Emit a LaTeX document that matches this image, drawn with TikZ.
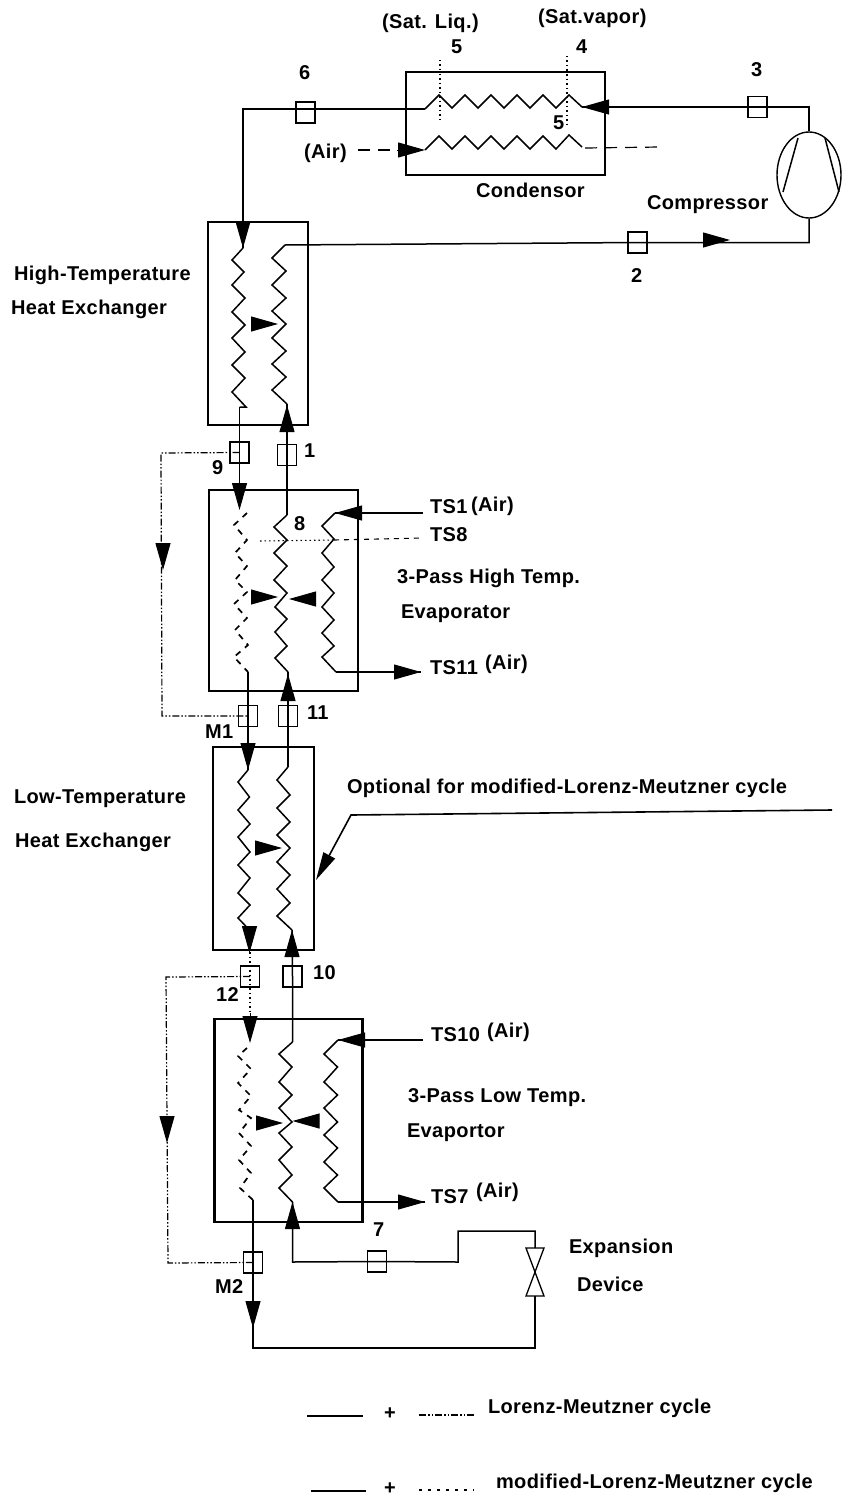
\documentclass[tikz,border=0pt]{standalone}
\usepackage{fontspec}
\usetikzlibrary{arrows.meta,shapes.geometric}
\newfontfamily\lblfont[LetterSpace=2]{Liberation Sans}
\tikzset{
  x=1pt,y=-1pt,
  pipe/.style={line width=1.5pt,line join=miter},
  shell/.style={draw,line width=2.3pt,inner sep=0pt,outer sep=0pt},
  sensor/.style={draw,line width=1.2pt,inner sep=0pt,outer sep=0pt,minimum width=19pt,minimum height=21pt},
  lab/.style={anchor=base west,inner sep=0pt,outer sep=0pt,font=\lblfont\bfseries\fontsize{20}{22}\selectfont},
  head/.style={line width=1pt,-{Triangle[length=#1,width=15pt]}},
  head/.default=27pt,
  dashdd/.style={line width=1.2pt,dash pattern=on 7pt off 2pt on 1.5pt off 2pt on 1.5pt off 2pt},
  dashcoil/.style={line width=1.7pt,dash pattern=on 6pt off 6pt},
  dots/.style={line width=1.1pt,dash pattern=on 1.5pt off 3pt},
  dashair/.style={line width=1.2pt,dash pattern=on 12pt off 8pt},
}
\newcommand{\hd}[4][27pt]{% arrow head: #2 base, #3 tip, #4 id
  \coordinate (#4b) at (#2);\coordinate (#4t) at (#3);
  \draw[head=#1] (#4b) -- (#4t);}
\begin{document}
\begin{tikzpicture}
\useasboundingbox[fill=white] (0,0) rectangle (841,1496);

% shells
\node[shell,minimum width=199pt,minimum height=103pt] (cond) at (505.5,123.5) {};
\node[shell,minimum width=100pt,minimum height=203pt] (hx1) at (258,323.5) {};
\node[shell,minimum width=149pt,minimum height=201pt] (ev1) at (283.5,590.5) {};
\node[shell,minimum width=101pt,minimum height=203pt] (hx2) at (263.5,848.5) {};
\node[shell,minimum width=148pt,minimum height=203pt] (ev2) at (288.5,1120.5) {};

% sensors
\node[sensor] (s6) at (305.5,112.5) {};
\node[sensor] (s3) at (757.5,107) {};
\node[sensor] (s2) at (637.5,242.5) {};
\node[sensor] (s9) at (239.5,452.5) {};
\node[sensor] (s1) at (287,455) {};
\node[sensor] (sM1) at (248,716) {};
\node[sensor] (s11) at (288,716) {};
\node[sensor] (s12) at (250,976.5) {};
\node[sensor] (s10) at (292.5,976.5) {};
\node[sensor] (sM2) at (253,1262.5) {};
\node[sensor] (s7) at (377,1261.5) {};

% compressor
\node[draw,ellipse,line width=1.4pt,inner sep=0pt,minimum width=64pt,minimum height=86pt] (comp) at (809,175) {};
\coordinate (ca) at (798,138);\coordinate (cb) at (783,192);
\coordinate (cc) at (825,138);\coordinate (cd) at (839,192);
\draw[pipe] (ca) -- (cb);
\draw[pipe] (cc) -- (cd);

% expansion valve
\coordinate (vtl) at (526,1248);\coordinate (vtr) at (544,1248);
\coordinate (vm) at (535,1272);
\coordinate (vbl) at (526,1296);\coordinate (vbr) at (544,1296);
\coordinate (vt) at (535,1248);\coordinate (vb) at (535,1296);
\draw[line width=1.3pt] (vtl) -- (vtr) -- (vm) -- cycle;
\draw[line width=1.3pt] (vbl) -- (vbr) -- (vm) -- cycle;

% condenser coils
\coordinate (c1L) at (425,109);\coordinate (c1R) at (582,107);
\draw[pipe] (c1L) -- (439,95) -- (452,108) -- (465,95) -- (478,108) -- (491,95) -- (504,108) -- (517,95) -- (530,108) -- (543,95) -- (556,108) -- (569,95) -- (c1R);
\coordinate (c2L) at (425,150);\coordinate (c2R) at (582,147);
\draw[pipe] (c2L) -- (439,136) -- (452,149) -- (465,136) -- (478,149) -- (491,136) -- (504,149) -- (517,136) -- (530,149) -- (543,136) -- (556,149) -- (569,135) -- (c2R);

% main loop top
\draw[pipe] (comp.north) |- (s3.center) -- (c1R);
\coordinate (x1) at (243,109);
\coordinate (hx1Lt) at (243,248);
\draw[pipe] (c1L) -- (x1) -- (hx1Lt);
\coordinate (hx1Rt) at (285,245);
\draw[pipe] (comp.south) |- (s2.center) -- (hx1Rt);

% HX1 coils
\coordinate (hx1Re) at (287,404);
\draw[pipe] (hx1Rt) -- (272,258) -- (286,271) -- (272,285) -- (286,298) -- (272,311) -- (286,324) -- (272,338) -- (286,351) -- (272,364) -- (286,377) -- (272,390) -- (hx1Re);
\coordinate (hx1Le) at (239.5,407);
\draw[pipe] (hx1Lt) -- (232,260) -- (244,272) -- (232,285) -- (245,298) -- (232,312) -- (245,325) -- (232,338) -- (245,352) -- (232,365) -- (245,378) -- (232,392) -- (246,407) -- (hx1Le);

% HX1 to Ev1
\coordinate (ev1Lt) at (239.5,508);
\draw[pipe] (hx1Le) -- (s9.center) -- (ev1Lt);
\coordinate (ev1Ct) at (287,515);
\draw[pipe] (hx1Re) -- (s1.center) -- (ev1Ct);

% Ev1 coils
\coordinate (ev1Ce) at (288,672);
\draw[pipe] (ev1Ct) -- (274,527) -- (287,540) -- (274,553) -- (287,566) -- (274,580) -- (287,593) -- (275,607) -- (287,619) -- (275,632) -- (287,646) -- (275,658) -- (ev1Ce);
\coordinate (ev1Rt) at (335,513);\coordinate (ev1Re) at (336,672);
\draw[pipe] (ev1Rt) -- (322,526) -- (334,539) -- (322,553) -- (334,567) -- (322,580) -- (334,593) -- (322,607) -- (334,620) -- (322,633) -- (334,646) -- (322,657) -- (ev1Re);
\coordinate (ev1Ld) at (248,672);
\draw[dashcoil] (247,513) -- (234,525) -- (247,540) -- (235,553) -- (247,566) -- (235,580) -- (247,592) -- (234,604) -- (247,618) -- (235,630) -- (248,645) -- (234,657) -- (ev1Ld);
\coordinate (ts1) at (423,513);\coordinate (ts11) at (421,672);
\draw[pipe] (ts1) -- (ev1Rt);
\draw[pipe] (ev1Re) -- (ts11);
\coordinate (ts8a) at (260,541);\coordinate (ts8b) at (334,540);\coordinate (ts8c) at (423,538);
\draw[dots] (ts8a) -- (ts8b);
\draw[line width=1.1pt,dash pattern=on 5pt off 5pt] (ts8b) -- (ts8c);

% Ev1 to HX2
\coordinate (hx2Lt) at (248,770);\coordinate (hx2Rt) at (288,767);
\draw[pipe] (ev1Ld) -- (sM1.center) -- (hx2Lt);
\draw[pipe] (ev1Ce) -- (s11.center) -- (hx2Rt);

% HX2 coils
\coordinate (hx2Le) at (249.5,930);\coordinate (hx2Re) at (292,930);
\draw[pipe] (hx2Lt) -- (238,782) -- (249.5,797) -- (238,810) -- (250,824) -- (238,837) -- (250,852) -- (238,865) -- (250,878) -- (238,893) -- (250,905) -- (238,918) -- (hx2Le);
\draw[pipe] (hx2Rt) -- (277,780) -- (290,795) -- (277,808) -- (290,822) -- (277,835) -- (290,848) -- (277,862) -- (290,875) -- (277,889) -- (290,903) -- (277,916) -- (hx2Re);

% HX2 to Ev2
\coordinate (ev2Lt) at (250,1043);\coordinate (ev2Ct) at (292.5,1042);
\coordinate (dotA) at (250,952);\coordinate (dotB) at (250,1015);
\draw[dots] (dotA) -- (s12.center) -- (dotB);
\draw[pipe] (hx2Re) -- (s10.center) -- (ev2Ct);

% Ev2 coils
\coordinate (ev2Ce) at (292.5,1202);
\draw[pipe] (ev2Ct) -- (279,1054) -- (292,1067) -- (279,1082) -- (292,1095) -- (279,1108) -- (292,1122) -- (279,1133) -- (292,1147) -- (279,1160) -- (292,1175) -- (279,1188) -- (ev2Ce);
\coordinate (ev2Rt) at (338,1040);\coordinate (ev2Re) at (338,1202);
\draw[pipe] (ev2Rt) -- (324,1054) -- (337.5,1067) -- (324,1082) -- (337.5,1095) -- (324,1108) -- (337.5,1122) -- (324,1135) -- (337.5,1148) -- (324,1162) -- (337.5,1175) -- (324,1188) -- (ev2Re);
\coordinate (ev2Ld) at (253,1200);
\draw[dashcoil] (247,1048) -- (238,1056) -- (251,1069) -- (238,1083) -- (251,1096) -- (239,1110) -- (251,1118) -- (239,1133) -- (251,1146) -- (239,1160) -- (251,1173) -- (240,1188) -- (ev2Ld);
\coordinate (ts10) at (423,1040);\coordinate (ts7) at (425,1202);
\draw[pipe] (ts10) -- (ev2Rt);
\draw[pipe] (ev2Re) -- (ts7);

% bottom loop
\coordinate (bl) at (253,1348);
\draw[pipe] (ev2Ld) -- (sM2.center) -- (bl) -| (vb);
\coordinate (p1) at (535,1231);\coordinate (p2) at (458,1231);\coordinate (p3) at (458,1262);\coordinate (p4) at (292.5,1262);
\draw[pipe] (vt) -- (p1) -- (p2) -- (p3) -- (s7.center) -- (p4) -- (ev2Ce);

% bypass lines
\coordinate (d1) at (161,453);\coordinate (d2) at (162,716);
\draw[dashdd] (s9.center) -- (d1) -- (d2) -- (sM1.center);
\coordinate (d3) at (166,977);\coordinate (d4) at (168,1263);
\draw[dashdd] (s12.center) -- (d3) -- (d4) -- (sM2.center);

% condenser air and dotted state lines
\coordinate (airin) at (358,150);\coordinate (airout) at (660,147);\coordinate (airmid) at (585,148);
\draw[dashair] (airin) -- (400,150);
\draw[dashair] (airmid) -- (airout);
\coordinate (d5a) at (440,60);\coordinate (d5b) at (440,123);
\coordinate (d4a) at (567,56);\coordinate (d4b) at (567,125);
\draw[dots] (d5a) -- (d5b);
\draw[dots] (d4a) -- (d4b);

% optional leader
\coordinate (l1) at (832,810);\coordinate (l2) at (351,815);\coordinate (l3) at (316,880);
\draw[line width=1.6pt,-{Triangle[length=28pt,width=13pt]}] (l1) -- (l2) -- (l3);

% arrow heads
\hd{609,107}{582,107}{a01}
\hd{397,150}{425,150}{a02}
\hd{703,240}{730,240}{a03}
\hd{243,219}{243,248}{a04}
\hd{287,434}{287,405}{a05}
\hd{252,324}{278,324}{a06}
\hd{239.5,482}{239.5,510}{a07}
\hd{362,513}{335,513}{a08}
\hd{395,672}{421,672}{a09}
\hd{253,597}{278,597}{a10}
\hd{315,599}{289,599}{a11}
\hd{288,699}{288,674}{a12}
\hd{163,544}{163,570}{a13}
\hd{248,741}{248,770}{a14}
\hd{255,848}{282,848}{a15}
\hd{249.5,930}{249.5,953}{a16}
\hd{292,957}{292,930}{a17}
\hd{250,1013}{250,1043}{a18}
\hd{362,1040}{338,1040}{a19}
\hd{398,1202}{425,1202}{a20}
\hd{257,1123}{283,1123}{a21}
\hd{318,1121}{292.5,1121}{a22}
\hd{292.5,1231}{292.5,1202}{a23}
\hd{167,1117}{167,1143}{a24}
\hd{253,1300}{253,1328}{a25}

% labels
\node[lab] (t01) at (382,29) {(Sat. Liq.)};
\node[lab] (t02) at (538,24) {(Sat.vapor)};
\node[lab] (t03) at (451,54) {5};
\node[lab] (t04) at (576,53) {4};
\node[lab] (t05) at (299,79) {6};
\node[lab] (t06) at (751,77) {3};
\node[lab] (t07) at (553,129) {5};
\node[lab] (t08) at (304,158) {(Air)};
\node[lab] (t09) at (476,197) {Condensor};
\node[lab] (t10) at (647,209) {Compressor};
\node[lab] (t11) at (631,282) {2};
\node[lab] (t12) at (14,280) {High-Temperature};
\node[lab] (t13) at (11,314) {Heat Exchanger};
\node[lab] (t14) at (304,457) {1};
\node[lab] (t15) at (212,474) {9};
\node[lab] (t16) at (294,530) {8};
\node[lab] (t17) at (430,513) {TS1};
\node[lab] (t18) at (471,511) {(Air)};
\node[lab] (t19) at (430,541) {TS8};
\node[lab] (t20) at (397,583) {3-Pass High Temp.};
\node[lab] (t21) at (401,618) {Evaporator};
\node[lab] (t22) at (430,674) {TS11};
\node[lab] (t23) at (485,669) {(Air)};
\node[lab] (t24) at (307,719) {11};
\node[lab] (t25) at (205,738) {M1};
\node[lab] (t26) at (347,793) {Optional for modified-Lorenz-Meutzner cycle};
\node[lab] (t27) at (14,803) {Low-Temperature};
\node[lab] (t28) at (15,847) {Heat Exchanger};
\node[lab] (t29) at (313,979) {10};
\node[lab] (t30) at (216,1001) {12};
\node[lab] (t31) at (431,1041) {TS10};
\node[lab] (t32) at (487,1037) {(Air)};
\node[lab] (t33) at (408,1102) {3-Pass Low Temp.};
\node[lab] (t34) at (407,1137) {Evaportor};
\node[lab] (t35) at (431,1203) {TS7};
\node[lab] (t36) at (476,1197) {(Air)};
\node[lab] (t37) at (373,1236) {7};
\node[lab] (t38) at (569,1253) {Expansion};
\node[lab] (t39) at (577,1291) {Device};
\node[lab] (t40) at (215,1293) {M2};
\node[lab] (t41) at (488,1413) {Lorenz-Meutzner cycle};
\node[lab] (t42) at (384,1419) {+};
\node[lab] (t43) at (496,1488) {modified-Lorenz-Meutzner cycle};
\node[lab] (t44) at (384,1494) {+};

% legend samples
\coordinate (k1a) at (307,1416);\coordinate (k1b) at (363,1416);
\coordinate (k2a) at (419,1415);\coordinate (k2b) at (474,1415);
\coordinate (k3a) at (311,1491);\coordinate (k3b) at (366,1491);
\coordinate (k4a) at (419,1490);\coordinate (k4b) at (474,1490);
\draw[pipe] (k1a) -- (k1b);
\draw[dashdd] (k2a) -- (k2b);
\draw[pipe] (k3a) -- (k3b);
\draw[line width=1.2pt,dash pattern=on 3pt off 6pt] (k4a) -- (k4b);
\end{tikzpicture}
\end{document}
